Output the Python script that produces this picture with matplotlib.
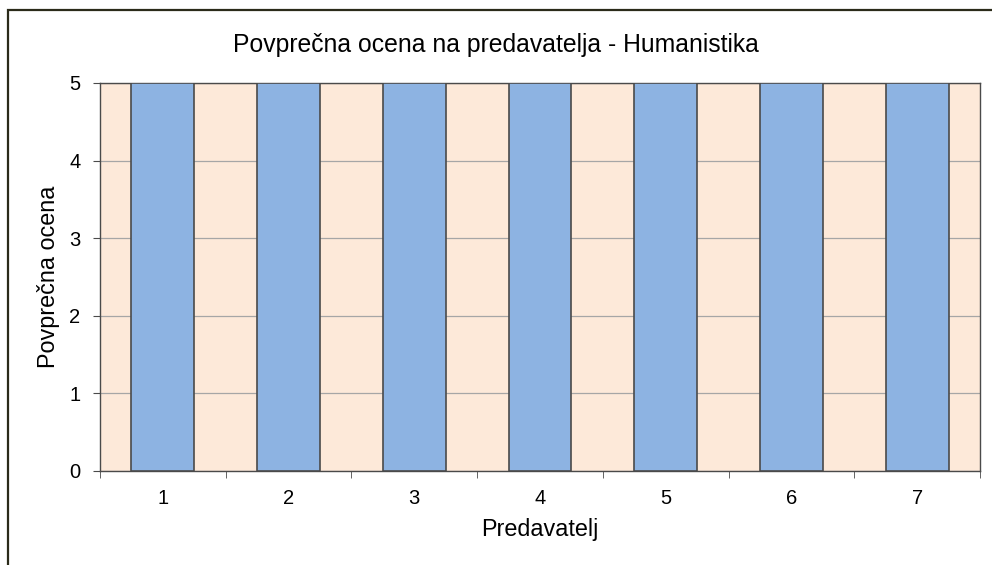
import matplotlib.pyplot as plt
import numpy as np
from matplotlib.patches import Rectangle

plt.rcParams['font.family'] = ['Liberation Sans', 'DejaVu Sans']

# Data
lecturers = ['1', '2', '3', '4', '5', '6', '7']
avg_scores = [5, 5, 5, 5, 5, 5, 5]

bar_color = '#8DB3E2'
bg_color = '#FDE9D9'
edge_color = '#4A4A4A'

fig = plt.figure(figsize=(9.92, 5.65), dpi=100)
ax = fig.add_axes([100 / 992, 1 - 471 / 565, 880 / 992, 388 / 565])

# Outer chart border (cropped on right/bottom)
fig.patches.append(Rectangle((8 / 992, -0.1), 1.2, 1 - 10 / 565 + 0.1,
                             transform=fig.transFigure, fill=False,
                             edgecolor='#2B2B1A', linewidth=1.6))

x = np.arange(len(lecturers))
ax.set_facecolor(bg_color)
ax.bar(x, avg_scores, width=0.5, color=bar_color, edgecolor=edge_color,
       linewidth=1.2, zorder=3)

ax.set_xlim(-0.5, len(lecturers) - 0.5)
ax.set_ylim(0, 5)
ax.set_yticks(range(0, 6))
ax.tick_params(axis='y', labelsize=14.5, length=5, color=edge_color, pad=9)

# category labels centred, tick marks on boundaries
ax.set_xticks(x)
ax.set_xticklabels(lecturers, fontsize=14.5)
ax.tick_params(axis='x', length=0, pad=13)
ax.set_xticks(np.arange(-0.5, len(lecturers)), minor=True)
ax.tick_params(axis='x', which='minor', length=5, color=edge_color)

ax.grid(axis='y', color='#A6A6A6', linewidth=0.9, zorder=1)
ax.set_axisbelow(True)

for side in ['left', 'bottom', 'top', 'right']:
    ax.spines[side].set_color(edge_color)
    ax.spines[side].set_linewidth(1.0)

fig.text(0.5, 1 - 45 / 565, 'Povprečna ocena na predavatelja - Humanistika',
         fontsize=17.8, ha='center', va='center')
ax.set_xlabel('Predavatelj', fontsize=16.8, labelpad=7)
ax.set_ylabel('Povprečna ocena', fontsize=16.8, labelpad=7)

fig.savefig('out.png', dpi=100)
